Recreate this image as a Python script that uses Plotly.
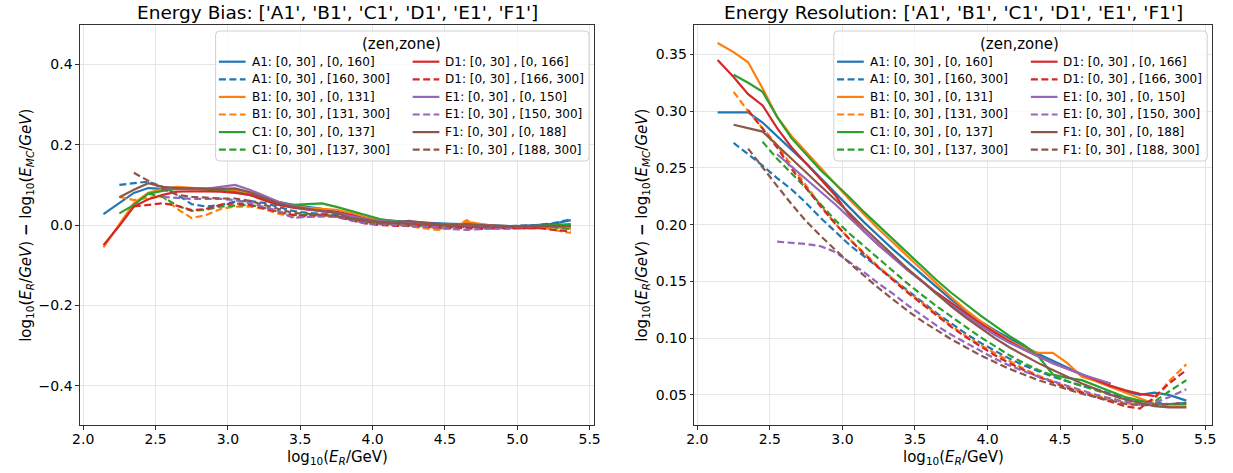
import plotly.graph_objects as go

# ---------------- data ----------------
X_GRID = [2.14, 2.25, 2.35, 2.45, 2.55, 2.65, 2.75, 2.85, 2.95, 3.05, 3.15, 3.25, 3.35,
          3.45, 3.55, 3.65, 3.75, 3.85, 3.95, 4.05, 4.15, 4.25, 4.35, 4.45, 4.55, 4.65,
          4.75, 4.85, 4.95, 5.05, 5.15, 5.25, 5.37]

DETECTORS = ["A1", "B1", "C1", "D1", "E1", "F1"]
ZONE_SPLIT = [160, 131, 137, 166, 150, 188]
COLORS = ["#1f77b4", "#ff7f0e", "#2ca02c", "#d62728", "#9467bd", "#8c564b"]

# first grid index of each series: (inner zone, outer zone)
START_IDX = {"A1": (0, 1), "B1": (0, 1), "C1": (1, 3), "D1": (0, 2), "E1": (4, 4), "F1": (1, 2)}

# Energy bias  (solid = inner zone, dashed = outer zone)
BIAS_A1_IN = [0.027, 0.055, 0.080, 0.092, 0.090, 0.090, 0.090, 0.090, 0.090, 0.088, 0.080, 0.068, 0.058, 0.050,
              0.045, 0.040, 0.033, 0.025, 0.018, 0.013, 0.010, 0.008, 0.006, 0.004, 0.003, 0.002, 0.000, -0.002,
              -0.003, -0.002, 0.000, 0.003, 0.012]
BIAS_A1_OUT = [0.100, 0.104, 0.108, 0.095, 0.075, 0.052, 0.046, 0.050, 0.058, 0.060, 0.055, 0.045, 0.035,
               0.030, 0.028, 0.025, 0.020, 0.012, 0.008, 0.006, 0.005, 0.004, 0.002, 0.000, -0.002, -0.004,
               -0.004, -0.003, -0.002, 0.000, 0.005, 0.014]
BIAS_B1_IN = [-0.056, 0.000, 0.054, 0.080, 0.090, 0.095, 0.092, 0.090, 0.088, 0.085, 0.078, 0.066, 0.055, 0.048,
              0.043, 0.040, 0.038, 0.030, 0.020, 0.012, 0.008, 0.004, 0.000, -0.010, -0.005, 0.008, 0.002, -0.003,
              -0.005, -0.003, -0.002, -0.005, -0.010]
BIAS_B1_OUT = [0.070, 0.062, 0.068, 0.070, 0.040, 0.017, 0.025, 0.040, 0.046, 0.046, 0.040, 0.028, 0.020,
               0.020, 0.022, 0.020, 0.012, 0.005, 0.002, 0.000, -0.003, -0.008, -0.012, -0.008, 0.012, -0.002,
               -0.010, -0.010, -0.008, -0.005, -0.012, -0.020]
BIAS_C1_IN = [0.029, 0.050, 0.078, 0.085, 0.090, 0.090, 0.088, 0.085, 0.082, 0.075, 0.065, 0.055, 0.050,
              0.052, 0.054, 0.045, 0.035, 0.025, 0.015, 0.010, 0.005, 0.003, 0.002, 0.000, -0.002, -0.002,
              -0.003, -0.005, -0.004, -0.002, 0.000, 0.002]
BIAS_C1_OUT = [0.078, 0.070, 0.048, 0.035, 0.038, 0.046, 0.048, 0.050, 0.043, 0.033, 0.025, 0.025, 0.028,
               0.022, 0.015, 0.008, 0.004, 0.002, 0.000, -0.002, -0.004, -0.005, -0.004, -0.006, -0.006,
               -0.006, -0.004, -0.003, -0.006, -0.010]
BIAS_D1_IN = [-0.050, -0.002, 0.046, 0.064, 0.075, 0.083, 0.084, 0.084, 0.083, 0.080, 0.075, 0.062, 0.050,
              0.043, 0.038, 0.035, 0.032, 0.025, 0.015, 0.008, 0.005, 0.004, 0.002, 0.000, -0.002, -0.003,
              -0.005, -0.007, -0.008, -0.008, -0.008]
BIAS_D1_OUT = [0.046, 0.050, 0.054, 0.048, 0.037, 0.040, 0.050, 0.054, 0.050, 0.041, 0.032, 0.025, 0.022,
               0.025, 0.022, 0.012, 0.004, 0.000, -0.002, -0.002, -0.004, -0.006, -0.008, -0.008, -0.010,
               -0.008, -0.006, -0.008, -0.008, -0.012, -0.016]
BIAS_E1_IN = [0.090, 0.092, 0.090, 0.090, 0.095, 0.100, 0.088, 0.072, 0.058, 0.048, 0.040, 0.034, 0.030,
              0.022, 0.015, 0.010, 0.008, 0.008, 0.005, 0.003, 0.001, 0.000, -0.002, -0.003]
BIAS_E1_OUT = [0.070, 0.068, 0.065, 0.065, 0.065, 0.062, 0.055, 0.045, 0.035, 0.018, 0.020, 0.022, 0.020,
               0.012, 0.004, 0.002, 0.000, -0.002, -0.004, -0.006, -0.010, -0.012, -0.010, -0.008, -0.006,
               -0.005, -0.004, -0.004, -0.004]
BIAS_F1_IN = [0.069, 0.088, 0.104, 0.095, 0.092, 0.091, 0.090, 0.090, 0.091, 0.082, 0.068, 0.054, 0.045,
              0.040, 0.035, 0.030, 0.017, 0.012, 0.008, 0.006, 0.010, 0.006, 0.002, 0.000, 0.002, 0.000,
              -0.002, -0.003, -0.002, -0.002, -0.002, -0.003]
BIAS_F1_OUT = [0.130, 0.110, 0.090, 0.075, 0.070, 0.068, 0.066, 0.066, 0.060, 0.050, 0.040, 0.030, 0.028,
               0.025, 0.022, 0.015, 0.008, 0.004, 0.005, 0.003, 0.002, 0.000, -0.003, -0.004, -0.004, -0.005,
               -0.004, -0.003, -0.002, -0.002, -0.003]

# Energy resolution
RES_A1_IN = [0.299, 0.299, 0.299, 0.290, 0.278, 0.266, 0.254, 0.241, 0.228, 0.215, 0.202, 0.190, 0.178, 0.167,
             0.156, 0.145, 0.134, 0.124, 0.115, 0.107, 0.100, 0.093, 0.086, 0.080, 0.074, 0.068, 0.062, 0.057,
             0.053, 0.050, 0.052, 0.050, 0.045]
RES_A1_OUT = [0.272, 0.262, 0.252, 0.241, 0.231, 0.219, 0.206, 0.194, 0.182, 0.172, 0.162, 0.152, 0.142,
              0.132, 0.122, 0.113, 0.104, 0.096, 0.089, 0.082, 0.076, 0.071, 0.066, 0.062, 0.058, 0.055,
              0.051, 0.047, 0.044, 0.043, 0.042, 0.043]
RES_B1_IN = [0.360, 0.352, 0.343, 0.320, 0.295, 0.278, 0.264, 0.250, 0.236, 0.222, 0.209, 0.196, 0.184, 0.172,
             0.160, 0.148, 0.136, 0.125, 0.115, 0.106, 0.098, 0.091, 0.087, 0.087, 0.078, 0.066, 0.062, 0.057,
             0.052, 0.047, 0.042, 0.040, 0.040]
RES_B1_OUT = [0.317, 0.300, 0.285, 0.270, 0.252, 0.234, 0.217, 0.201, 0.187, 0.175, 0.163, 0.152, 0.141,
              0.131, 0.121, 0.111, 0.102, 0.094, 0.087, 0.080, 0.073, 0.067, 0.062, 0.057, 0.053, 0.049,
              0.046, 0.043, 0.041, 0.046, 0.062, 0.077]
RES_C1_IN = [0.332, 0.325, 0.317, 0.295, 0.276, 0.262, 0.248, 0.236, 0.224, 0.211, 0.199, 0.187, 0.175,
             0.163, 0.151, 0.140, 0.130, 0.120, 0.111, 0.102, 0.094, 0.084, 0.068, 0.065, 0.063, 0.058,
             0.053, 0.048, 0.045, 0.042, 0.042, 0.042]
RES_C1_OUT = [0.273, 0.258, 0.245, 0.232, 0.218, 0.204, 0.192, 0.181, 0.170, 0.159, 0.148, 0.138, 0.128,
              0.119, 0.110, 0.101, 0.093, 0.085, 0.078, 0.072, 0.067, 0.062, 0.058, 0.054, 0.050, 0.046,
              0.043, 0.044, 0.053, 0.063]
RES_D1_IN = [0.345, 0.330, 0.315, 0.305, 0.285, 0.268, 0.254, 0.240, 0.226, 0.208, 0.194, 0.182, 0.171, 0.160,
             0.150, 0.140, 0.131, 0.122, 0.113, 0.105, 0.097, 0.090, 0.084, 0.078, 0.073, 0.068, 0.063, 0.058,
             0.054, 0.051, 0.049]
RES_D1_OUT = [0.301, 0.285, 0.268, 0.249, 0.232, 0.216, 0.201, 0.187, 0.174, 0.162, 0.151, 0.140, 0.130,
              0.120, 0.110, 0.101, 0.093, 0.085, 0.078, 0.072, 0.066, 0.061, 0.056, 0.052, 0.048, 0.044,
              0.040, 0.038, 0.048, 0.060, 0.072]
RES_E1_IN = [0.262, 0.251, 0.240, 0.229, 0.218, 0.206, 0.194, 0.182, 0.171, 0.160, 0.150, 0.139, 0.129,
             0.120, 0.111, 0.103, 0.096, 0.090, 0.084, 0.078, 0.073, 0.068, 0.064, 0.060]
RES_E1_OUT = [0.185, 0.184, 0.183, 0.181, 0.176, 0.167, 0.158, 0.148, 0.139, 0.129, 0.120, 0.111, 0.103,
              0.096, 0.089, 0.082, 0.076, 0.071, 0.066, 0.062, 0.058, 0.054, 0.050, 0.047, 0.044, 0.042,
              0.043, 0.048, 0.055]
RES_F1_IN = [0.288, 0.285, 0.282, 0.270, 0.258, 0.246, 0.234, 0.222, 0.210, 0.197, 0.185, 0.173, 0.161,
             0.150, 0.139, 0.128, 0.118, 0.109, 0.100, 0.092, 0.085, 0.078, 0.072, 0.066, 0.060, 0.055,
             0.050, 0.046, 0.043, 0.040, 0.039, 0.039]
RES_F1_OUT = [0.267, 0.250, 0.234, 0.218, 0.203, 0.190, 0.178, 0.166, 0.155, 0.144, 0.134, 0.124, 0.115,
              0.107, 0.099, 0.092, 0.085, 0.079, 0.073, 0.068, 0.063, 0.059, 0.055, 0.051, 0.048, 0.045,
              0.042, 0.041, 0.041, 0.042, 0.043]

BIAS = {"A1": (BIAS_A1_IN, BIAS_A1_OUT), "B1": (BIAS_B1_IN, BIAS_B1_OUT), "C1": (BIAS_C1_IN, BIAS_C1_OUT),
        "D1": (BIAS_D1_IN, BIAS_D1_OUT), "E1": (BIAS_E1_IN, BIAS_E1_OUT), "F1": (BIAS_F1_IN, BIAS_F1_OUT)}
RES = {"A1": (RES_A1_IN, RES_A1_OUT), "B1": (RES_B1_IN, RES_B1_OUT), "C1": (RES_C1_IN, RES_C1_OUT),
       "D1": (RES_D1_IN, RES_D1_OUT), "E1": (RES_E1_IN, RES_E1_OUT), "F1": (RES_F1_IN, RES_F1_OUT)}

X_TICKS = [2.0, 2.5, 3.0, 3.5, 4.0, 4.5, 5.0, 5.5]
BIAS_TICKS = [-0.4, -0.2, 0.0, 0.2, 0.4]
RES_TICKS = [0.05, 0.10, 0.15, 0.20, 0.25, 0.30, 0.35]

# ---------------- layout helpers ----------------
W, H = 1233, 473
FONT = "DejaVu Sans"
DASH = "7px,3.5px"
LW = 2.2

def px(x):
    return x / W

def py(y):
    return 1 - y / H

PANELS = [  # (xaxis id, yaxis id, left px, right px)
    ("x", "y", 72.7, 593.0),
    ("x2", "y2", 694.0, 1218.3),
]
TOP, BOTTOM = 25.0, 425.0

fig = go.Figure()

for p, data in enumerate([BIAS, RES]):
    xa, ya = PANELS[p][0], PANELS[p][1]
    for det, col in zip(DETECTORS, COLORS):
        for z in range(2):
            yv = data[det][z]
            s = START_IDX[det][z]
            xv = X_GRID[s:s + len(yv)]
            fig.add_trace(go.Scatter(
                x=xv, y=yv, mode="lines", xaxis=xa, yaxis=ya, showlegend=False,
                line=dict(color=col, width=LW, dash="solid" if z == 0 else DASH),
                hoverinfo="skip"))

axis_common = dict(showline=True, linecolor="#333333", linewidth=1, mirror=True,
                   ticks="outside", ticklen=3.5, tickcolor="#333333",
                   showgrid=True, gridcolor="#e6e6e6", gridwidth=1, zeroline=False,
                   tickfont=dict(family=FONT, size=14, color="black"))

fig.update_layout(
    width=W, height=H, margin=dict(l=0, r=0, t=0, b=0),
    paper_bgcolor="white", plot_bgcolor="white",
    font=dict(family=FONT, color="black"),
    showlegend=False,
    xaxis=dict(domain=[px(72.7), px(593.0)], range=[1.977, 5.532], tickvals=X_TICKS,
               tickformat=".1f", anchor="y", ticklabelstandoff=-2, **axis_common),
    yaxis=dict(domain=[py(BOTTOM), py(TOP)], range=[-0.498, 0.498], tickvals=BIAS_TICKS,
               tickformat=".1f", anchor="x", **axis_common),
    xaxis2=dict(domain=[px(694.0), px(1218.3)], range=[1.978, 5.55], tickvals=X_TICKS,
                tickformat=".1f", anchor="y2", ticklabelstandoff=-2, **axis_common),
    yaxis2=dict(domain=[py(BOTTOM), py(TOP)], range=[0.0235, 0.3759], tickvals=RES_TICKS,
                tickformat=".2f", anchor="x2", **axis_common),
)

annotations = []
shapes = []

TITLES = ["Energy Bias: ['A1', 'B1', 'C1', 'D1', 'E1', 'F1']",
          "Energy Resolution: ['A1', 'B1', 'C1', 'D1', 'E1', 'F1']"]
XLABEL = "log<sub>10</sub>(<i>E<sub>R</sub></i>/GeV)"
YLABEL = ("log<sub>10</sub>(<i>E<sub>R</sub></i>/<i>GeV</i>) <b>−</b> "
          "log<sub>10</sub>(<i>E<sub>MC</sub></i>/<i>GeV</i>)")
YLABEL_X = [18, 641]

for p, (xa, ya, L, R) in enumerate(PANELS):
    cx = (L + R) / 2
    annotations.append(dict(text=TITLES[p], x=px(cx), y=py(13), xref="paper", yref="paper",
                            xanchor="center", yanchor="middle", showarrow=False,
                            font=dict(family=FONT, size=18.5, color="black")))
    annotations.append(dict(text=XLABEL, x=px(cx), y=py(457), xref="paper", yref="paper",
                            xanchor="center", yanchor="middle", showarrow=False,
                            font=dict(family=FONT, size=15, color="black")))
    annotations.append(dict(text=YLABEL, x=px(YLABEL_X[p]), y=py((TOP + BOTTOM) / 2),
                            xref="paper", yref="paper", textangle=-90,
                            xanchor="center", yanchor="middle", showarrow=False,
                            font=dict(family=FONT, size=15, color="black")))

    # legend box
    bR = R - 5.3
    bL = bR - 377.7
    bT, bB = 31.0, 161.0
    r = 4.0
    path = (f"M {px(bL + r)},{py(bT)} L {px(bR - r)},{py(bT)} Q {px(bR)},{py(bT)} {px(bR)},{py(bT + r)} "
            f"L {px(bR)},{py(bB - r)} Q {px(bR)},{py(bB)} {px(bR - r)},{py(bB)} "
            f"L {px(bL + r)},{py(bB)} Q {px(bL)},{py(bB)} {px(bL)},{py(bB - r)} "
            f"L {px(bL)},{py(bT + r)} Q {px(bL)},{py(bT)} {px(bL + r)},{py(bT)} Z")
    shapes.append(dict(type="path", path=path, xref="paper", yref="paper", layer="above",
                       fillcolor="rgba(255,255,255,0.8)", line=dict(color="#d0d0d0", width=1)))
    annotations.append(dict(text="(zen,zone)", x=px(bL + 188.3), y=py(43.5), xref="paper", yref="paper",
                            xanchor="center", yanchor="middle", showarrow=False,
                            font=dict(family=FONT, size=15, color="black")))
    for i, (det, split, col) in enumerate(zip(DETECTORS, ZONE_SPLIT, COLORS)):
        column = i // 3
        x0 = bL + (3.3 if column == 0 else 199.3)
        tx = bL + (35.0 if column == 0 else 230.0)
        for z in range(2):
            row = (i % 3) * 2 + z
            yy = 61.7 + 17.6 * row
            shapes.append(dict(type="line", xref="paper", yref="paper", layer="above",
                               x0=px(x0), x1=px(x0 + 27), y0=py(yy), y1=py(yy),
                               line=dict(color=col, width=LW, dash="solid" if z == 0 else DASH)))
            label = f"{det}: [0, 30] , [0, {split}]" if z == 0 else f"{det}: [0, 30] , [{split}, 300]"
            annotations.append(dict(text=label, x=px(tx), y=py(yy), xref="paper", yref="paper",
                                    xanchor="left", yanchor="middle", showarrow=False,
                                    font=dict(family=FONT, size=12, color="black")))

fig.update_layout(annotations=annotations, shapes=shapes)
fig.write_html("out.html")
